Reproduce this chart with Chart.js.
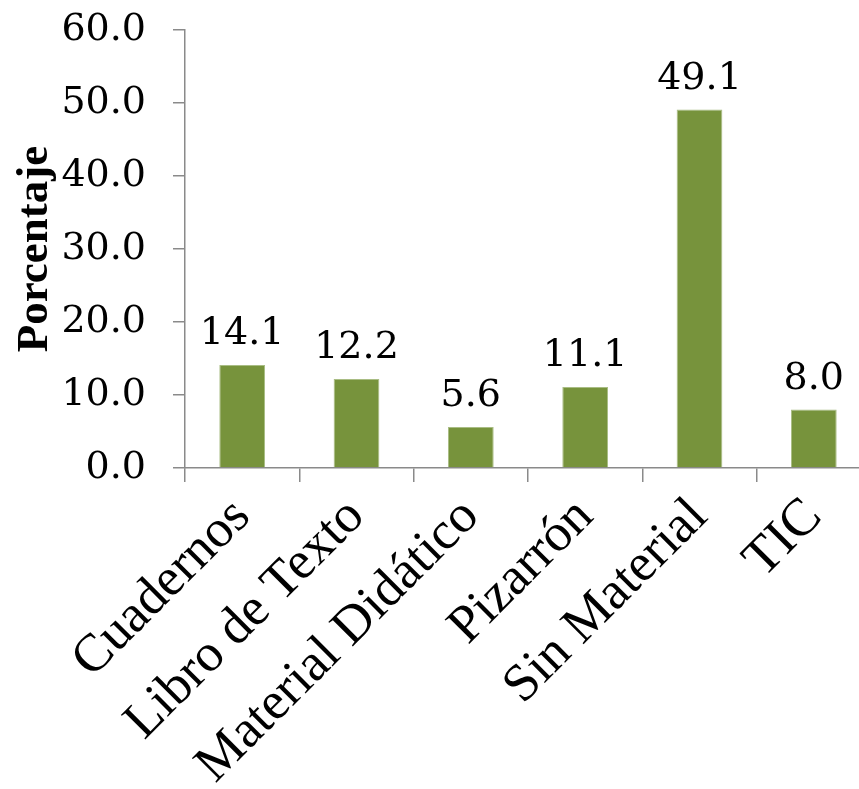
<!DOCTYPE html>
<html>
<head>
<meta charset="utf-8">
<script src="https://cdn.jsdelivr.net/npm/chart.js@4"></script>
<style>
  html, body { margin: 0; padding: 0; background: #fff; overflow: hidden; }
  #wrap { width: 880px; height: 789px; }
</style>
</head>
<body>
<div id="wrap"><canvas id="myChart"></canvas></div>
<script>
const labels = ['Cuadernos', 'Libro de Texto', 'Material Didático', 'Pizarrón', 'Sin Material', 'TIC'];
const values = [14.1, 12.2, 5.6, 11.1, 49.1, 8.0];
const yMin = 0;
const yMax = 60;
const yStep = 10;

const axisGrey = '#8a8a8a';

// draws the value above each bar
const barValueLabels = {
  id: 'barValueLabels',
  afterDatasetsDraw(chart) {
    const ctx = chart.ctx;
    const meta = chart.getDatasetMeta(0);
    ctx.save();
    ctx.font = '38px "DejaVu Serif"';
    ctx.fillStyle = '#000';
    ctx.textAlign = 'center';
    ctx.textBaseline = 'alphabetic';
    meta.data.forEach((bar, i) => {
      ctx.fillText(values[i].toFixed(1), bar.x, bar.y - 21);
    });
    ctx.restore();
  }
};

const data = {
  labels: labels,
  datasets: [{
    data: values,
    backgroundColor: '#77933c',
    borderColor: '#a9bd84',
    borderWidth: 1,
    barPercentage: 0.4,
    categoryPercentage: 1.0,
  }]
};

const config = {
  type: 'bar',
  data: data,
  plugins: [barValueLabels],
  options: {
    responsive: true,
    maintainAspectRatio: false,
    animation: false,
    layout: { padding: { top: 30, right: 9, left: 0, bottom: 0 } },
    plugins: {
      legend: { display: false },
      tooltip: { enabled: false },
    },
    scales: {
      x: {
        grid: { drawOnChartArea: false, drawTicks: true, tickLength: 14, color: axisGrey, lineWidth: 1.5, offset: true },
        border: { color: axisGrey, width: 1.5 },
        ticks: {
          color: '#000',
          font: { family: '"Liberation Serif"', size: 53 },
          maxRotation: 45,
          minRotation: 45,
          autoSkip: false,
          padding: 4,
        },
        afterFit(scale) {
          scale.height = 321;
          scale.paddingTop = 0;
        },
      },
      y: {
        min: yMin,
        max: yMax,
        ticks: {
          stepSize: yStep,
          color: '#000',
          font: { family: '"DejaVu Serif"', size: 38 },
          padding: 27,
          callback: (v) => Number(v).toFixed(1),
        },
        grid: { drawOnChartArea: false, drawTicks: true, tickLength: 12, color: axisGrey, lineWidth: 1.5 },
        border: { color: axisGrey, width: 1.5 },
        title: {
          display: true,
          text: 'Porcentaje',
          color: '#000',
          font: { family: '"Liberation Serif"', size: 45, weight: 'bold' },
          padding: { top: 8, bottom: 0 },
        },
        afterFit(scale) {
          scale.width = 185;
          scale.paddingTop = 0;
          scale.paddingBottom = 0;
        },
      }
    }
  }
};

new Chart(document.getElementById('myChart'), config);
</script>
</body>
</html>
